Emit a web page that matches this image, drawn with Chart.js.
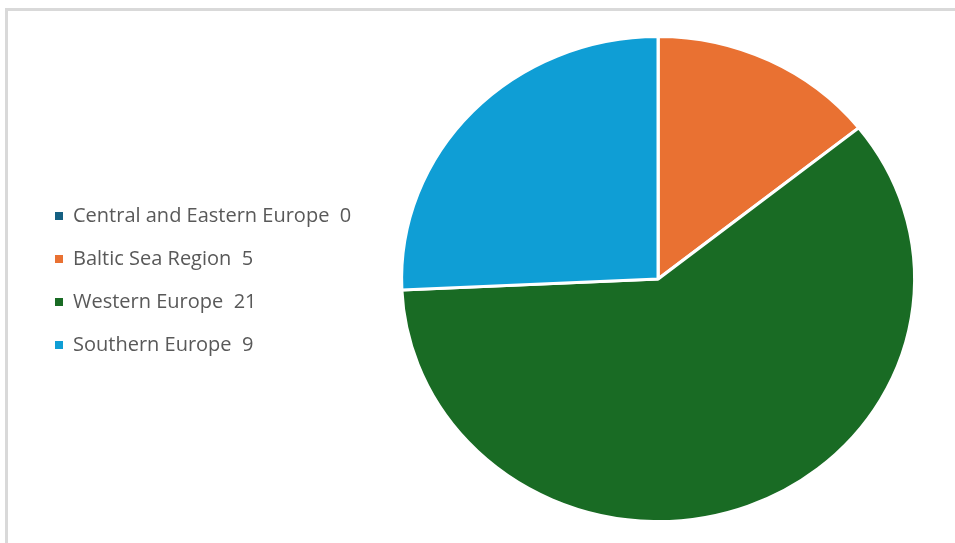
<!DOCTYPE html>
<html>
<head>
<meta charset="utf-8">
<script src="https://cdn.jsdelivr.net/npm/chart.js@4.4.1/dist/chart.umd.min.js"></script>
<style>
    html, body { margin: 0; padding: 0; background: #fff; overflow: hidden; }
    .wrap { position: absolute; left: 0; top: 0; width: 955px; height: 543px; overflow: hidden; }
    canvas { display: block; }
</style>
</head>
<body>
<div class="wrap"><canvas id="pieChart"></canvas></div>
<script>
const regions = ['Central and Eastern Europe', 'Baltic Sea Region', 'Western Europe', 'Southern Europe'];
const counts = [0, 5, 21, 9];
const sliceColors = ['#156082', '#E97132', '#196B24', '#0F9ED5'];

// the reference pie is a little wider than tall
const stretchX = 1.058;
const stretchPie = {
    id: 'stretchPie',
    beforeDatasetsDraw(chart) {
        const arc = chart.getDatasetMeta(0).data[0];
        const ctx = chart.ctx;
        ctx.save();
        ctx.translate(arc.x, arc.y);
        ctx.scale(stretchX, 1);
        ctx.translate(-arc.x, -arc.y);
    },
    afterDatasetsDraw(chart) {
        chart.ctx.restore();
    }
};

// gray chart-area frame (only top and left edges fall inside the picture)
const frameLines = {
    id: 'frameLines',
    beforeDraw(chart) {
        const ctx = chart.ctx;
        ctx.save();
        ctx.fillStyle = '#d9d9d9';
        ctx.fillRect(5, 8, chart.width - 5, 3);
        ctx.fillRect(5, 8, 3, chart.height - 8);
        ctx.restore();
    }
};

document.addEventListener('DOMContentLoaded', () => {
    const ctx = document.getElementById('pieChart').getContext('2d');
    new Chart(ctx, {
        type: 'pie',
        data: {
            labels: regions,
            datasets: [{
                data: counts,
                backgroundColor: sliceColors,
                borderColor: '#ffffff',
                borderWidth: 3
            }]
        },
        options: {
            responsive: true,
            maintainAspectRatio: false,
            animation: false,
            layout: { padding: { left: 32, top: 35, bottom: 20, right: 0 } },
            plugins: {
                tooltip: { enabled: false },
                legend: {
                    position: 'left',
                    title: { display: true, text: ' ', font: { size: 1 }, padding: 1 },
                    labels: {
                        boxWidth: 8,
                        boxHeight: 8,
                        padding: 23,
                        color: '#595959',
                        font: { family: 'Open Sans', size: 20 },
                        generateLabels(chart) {
                            const items = Chart.overrides.pie.plugins.legend.labels.generateLabels(chart);
                            return items.map((item, i) => {
                                item.text = regions[i] + '  ' + counts[i];
                                item.strokeStyle = sliceColors[i];
                                item.lineWidth = 0;
                                return item;
                            });
                        }
                    }
                }
            }
        },
        plugins: [stretchPie, frameLines]
    });
});
</script>
</body>
</html>
